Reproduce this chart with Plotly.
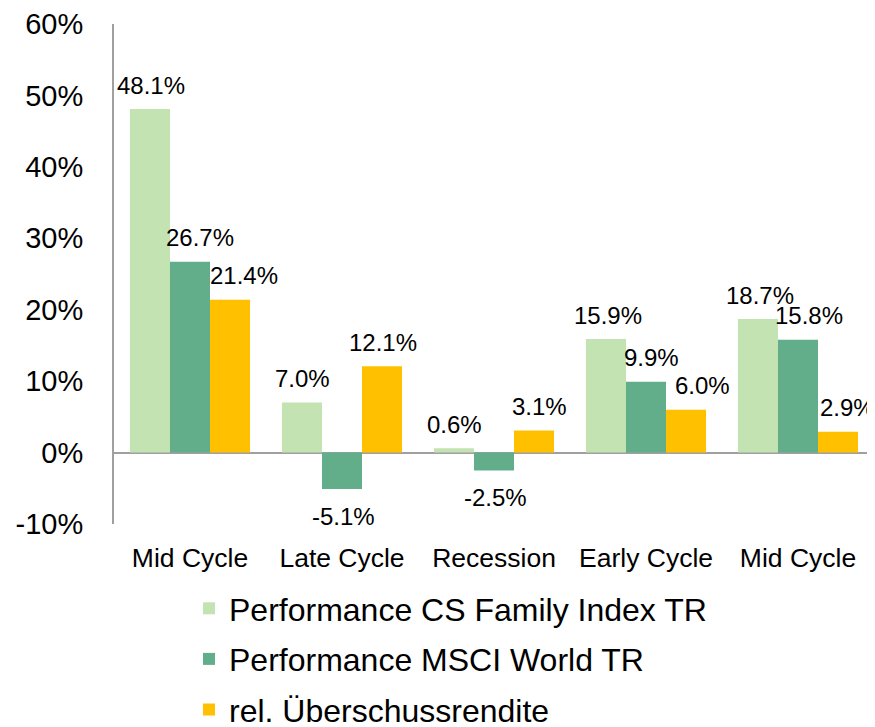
import plotly.graph_objects as go

categories = ["Mid Cycle", "Late Cycle", "Recession", "Early Cycle", "Mid Cycle"]
cs_family = [48.1, 7.0, 0.6, 15.9, 18.7]
msci_world = [26.7, -5.1, -2.5, 9.9, 15.8]
rel_excess = [21.4, 12.1, 3.1, 6.0, 2.9]
series_names = ["Performance CS Family Index TR", "Performance MSCI World TR", "rel. Überschussrendite"]
y_ticks = [-10, 0, 10, 20, 30, 40, 50, 60]
y_tick_labels = [f"{v}%" for v in y_ticks]

# label horizontal nudges (px), styling only
label_dx = [
    [1, 1, 1, 2, 2],
    [10, 1, 1, 5, 11],
    [14, 1, 5, 16, 9],
]

colors = ["#C3E4B2", "#62AE8B", "#FFC000"]
FONT = "Liberation Sans, Arial, sans-serif"
bargap = 0.21
w = (1 - bargap) / 3

x_idx = list(range(len(categories)))
all_series = [cs_family, msci_world, rel_excess]

fig = go.Figure()
for k, (vals, name) in enumerate(zip(all_series, series_names)):
    fig.add_trace(go.Bar(
        x=x_idx, y=vals, name=name, marker=dict(color=colors[k], line=dict(width=0)),
        legendgroup=f"g{k}", hoverinfo="skip",
    ))

annotations = []
for k, vals in enumerate(all_series):
    for i, v in enumerate(vals):
        annotations.append(dict(
            x=i + (k - 1) * w, y=v, xref="x", yref="y",
            text=f"{v:.1f}%", showarrow=False,
            xanchor="center", yanchor="middle",
            xshift=label_dx[k][i], yshift=24 if v >= 0 else -27,
            font=dict(family=FONT, size=24, color="#000000"),
        ))

fig.update_layout(
    width=875, height=727,
    margin=dict(l=106, r=9, t=16, b=211, autoexpand=False),
    barmode="group", bargap=bargap, bargroupgap=0,
    plot_bgcolor="white", paper_bgcolor="white",
    font=dict(family=FONT, color="#000000"),
    annotations=annotations,
    showlegend=True,
    legend=dict(
        orientation="v", xref="container", yref="container",
        x=181 / 875, xanchor="left", y=1 - 573 / 727, yanchor="top",
        font=dict(family=FONT, size=32, color="#000000"),
        tracegroupgap=6, bgcolor="rgba(0,0,0,0)", borderwidth=0,
        traceorder="grouped",
    ),
)
fig.update_xaxes(
    range=[-0.5, len(categories) - 0.5],
    tickvals=x_idx, ticktext=categories, tickangle=0,
    showline=False, showgrid=False, zeroline=False, ticks="",
    tickfont=dict(family=FONT, size=26.5, color="#000000"),
    ticklabelstandoff=15, automargin=False,
)
fig.update_yaxes(
    range=[-10, 60], tickvals=y_ticks, ticktext=y_tick_labels,
    showline=True, linecolor="#A0A0A0", linewidth=2,
    showgrid=False, zeroline=True, zerolinecolor="#A0A0A0", zerolinewidth=2,
    ticks="", tickfont=dict(family=FONT, size=29, color="#000000"),
    ticklabelstandoff=23, automargin=False,
)

fig.write_html("out.html")
